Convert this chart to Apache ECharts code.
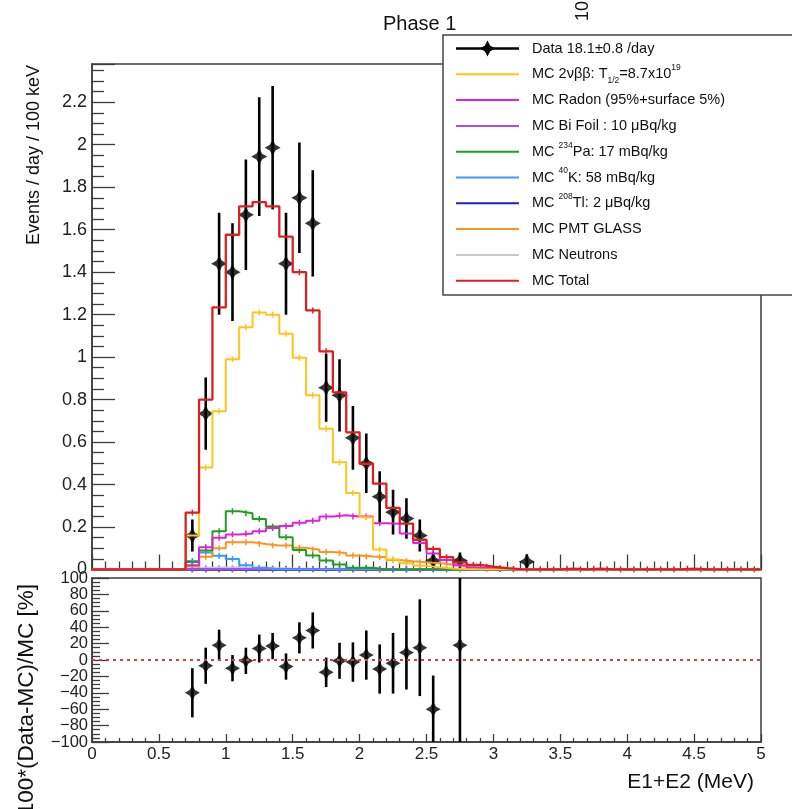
<!DOCTYPE html>
<html><head><meta charset="utf-8">
<script src="https://cdn.jsdelivr.net/npm/echarts@6/dist/echarts.min.js"></script>
<style>html,body{margin:0;padding:0;background:#fff}#c{width:792px;height:809px}</style>
</head><body><div id="c"></div>
<script>
// ---------------- DATA ----------------
const binEdges = [0.0,0.1,0.2,0.3,0.4,0.5,0.6,0.7,0.8,0.9,1.0,1.1,1.2,1.3,1.4,1.5,1.6,1.7,1.8,1.9,2.0,2.1,2.2,2.3,2.4,2.5,2.6,2.7,2.8,2.9,3.0,3.1,3.2,3.3,3.4,3.5,3.6,3.7,3.8,3.9,4.0,4.1,4.2,4.3,4.4,4.5,4.6,4.7,4.8,4.9,5.0];

const mcTotal = [0,0,0,0,0,0,0,0.268,0.80,1.234,1.576,1.71,1.73,1.71,1.567,1.40,1.22,1.027,0.834,0.646,0.498,0.404,0.29,0.216,0.14,0.097,0.058,0.034,0.022,0.013,0.006,0.002,0.001,0.001,0.001,0.004,0.001,0.004,0.001,0.001,0.001,0.001,0.001,0.001,0.004,0.001,0.001,0.001,0.001,0.001];
const mc2nbb = [0,0,0,0,0,0,0,0.16,0.48,0.745,0.99,1.14,1.21,1.20,1.11,0.997,0.82,0.663,0.505,0.36,0.246,0.094,0.047,0.03,0.018,0.01,0.005,0.002,0,0,0,0,0,0,0,0,0,0,0,0,0,0,0,0,0,0,0,0,0,0];
const mcRadon = [0,0,0,0,0,0,0,0.02,0.105,0.15,0.165,0.17,0.18,0.195,0.205,0.22,0.23,0.25,0.255,0.25,0.25,0.218,0.215,0.17,0.125,0.075,0.045,0.02,0.01,0.005,0.002,0,0,0,0,0,0,0,0,0,0,0,0,0,0,0,0,0,0,0];
const mcBiFoil = [0,0,0,0,0,0,0,0.001,0.002,0.002,0.002,0.002,0.002,0.002,0.002,0.002,0.002,0.002,0.001,0.001,0.001,0.001,0.001,0.001,0.001,0,0,0,0,0,0,0,0,0,0,0,0,0,0,0,0,0,0,0,0,0,0,0,0,0];
const mcPa234 = [0,0,0,0,0,0,0,0.035,0.09,0.18,0.274,0.265,0.238,0.202,0.152,0.092,0.066,0.042,0.024,0.008,0.008,0,0,0,0,0,0,0,0,0,0,0,0,0,0,0,0,0,0,0,0,0,0,0,0,0,0,0,0,0];
const mcK40 = [0,0,0,0,0,0,0,0.04,0.08,0.065,0.05,0.02,0.008,0,0,0,0,0,0,0,0,0,0,0,0,0,0,0,0,0,0,0,0,0,0,0,0,0,0,0,0,0,0,0,0,0,0,0,0,0];
const mcTl208 = [0,0,0,0,0,0,0,0.001,0.001,0.001,0.001,0.001,0.001,0.001,0.001,0.001,0.001,0.001,0.001,0.001,0.001,0.001,0.001,0.001,0.001,0.001,0.001,0.001,0,0,0,0,0,0,0,0,0,0,0,0,0,0,0,0,0,0,0,0,0,0];
const mcPMT = [0,0,0,0,0,0,0,0.014,0.06,0.10,0.128,0.128,0.12,0.113,0.113,0.102,0.093,0.082,0.078,0.066,0.061,0.058,0.045,0.039,0.034,0.03,0.022,0.014,0.009,0.005,0.003,0.001,0,0,0,0,0,0,0,0,0,0,0,0,0,0,0,0,0,0];
const mcNeutrons = [0,0,0,0,0,0,0,0.006,0.01,0.01,0.009,0.008,0.007,0.006,0.005,0.004,0.004,0.003,0.003,0.002,0.002,0.001,0.001,0.001,0.001,0,0,0,0,0,0,0,0,0,0,0,0,0,0,0,0,0,0,0,0,0,0,0,0,0];

const dataCenters = [0.75,0.85,0.95,1.05,1.15,1.25,1.35,1.45,1.55,1.65,1.75,1.85,1.95,2.05,2.15,2.25,2.35,2.45,2.55,2.75,3.25];
const dataVals = [0.16,0.734,1.44,1.40,1.67,1.944,1.986,1.44,1.75,1.63,0.856,0.82,0.62,0.50,0.343,0.27,0.24,0.16,0.042,0.042,0.037];
const dataErrs = [0.075,0.17,0.24,0.23,0.26,0.28,0.29,0.24,0.26,0.25,0.16,0.17,0.15,0.14,0.12,0.105,0.095,0.075,0.038,0.038,0.035];

const ratioCenters = [0.75,0.85,0.95,1.05,1.15,1.25,1.35,1.45,1.55,1.65,1.75,1.85,1.95,2.05,2.15,2.25,2.35,2.45,2.55,2.75];
const ratioVals = [-40,-7,18,-10,-1,14,17,-8,27,36,-15,-1,-2.5,6,-11,-4,9,15,-60,18];
const ratioErrs = [30,22,19,16,16,17,16,16,19,22,18,22,24,30,30,37,45,59,41,130];

const legendLabels = ['Data 18.1\u00b10.8 /day','MC 2\u03bd\u03b2\u03b2: T{sub|1/2}=8.7x10{sup|19}','MC Radon (95%+surface 5%)','MC Bi Foil : 10 \u03bcBq/kg','MC {sup|234}Pa: 17 mBq/kg','MC {sup|40}K: 58 mBq/kg','MC {sup|208}Tl: 2 \u03bcBq/kg','MC PMT GLASS','MC Neutrons','MC Total'];

// ---------------- STYLE ----------------
const FONT = '"Liberation Sans", Arial, Helvetica, sans-serif';
const AX = '#3c3c3c';
const C = {
  data:'#000000', nbb:'#FFC518', radon:'#DD22DD', bi:'#9F4FFF', pa:'#1F9F1F',
  k:'#3A9BFF', tl:'#1E1ECC', pmt:'#FF9320', neu:'#C8C8C8', total:'#DD1F1F'
};
const legendColors = [C.data,C.nbb,C.radon,C.bi,C.pa,C.k,C.tl,C.pmt,C.neu,C.total];

function histData(vals){
  const d = [];
  for (let i = 0; i < vals.length; i++) d.push([binEdges[i], vals[i]]);
  d.push([binEdges[vals.length], vals[vals.length-1]]);
  return d;
}
function centerData(vals){
  const d = [];
  for (let i = 0; i < vals.length; i++) if (vals[i] > 0) d.push([(binEdges[i]+binEdges[i+1])/2, vals[i]]);
  return d;
}
function histSeries(vals, color, width){
  return [{
    type:'line', xAxisIndex:0, yAxisIndex:0, step:'end', showSymbol:false, symbol:'none',
    data: histData(vals), lineStyle:{color:color, width:width}, silent:true, clip:true
  },{
    type:'custom', xAxisIndex:0, yAxisIndex:0, data: centerData(vals), silent:true,
    renderItem:(params, api) => {
      const p = api.coord([api.value(0), api.value(1)]);
      return {type:'line', shape:{x1:p[0], y1:p[1]-3, x2:p[0], y2:p[1]+3}, style:{stroke:color, lineWidth:1.5}};
    }
  }];
}
const STAR = 'path://M0,-10 L3.6,-3.6 L10,0 L3.6,3.6 L0,10 L-3.6,3.6 L-10,0 L-3.6,-3.6 Z';

function errSeries(xs, vs, es, xi, yi, lo, hi){
  return {
    type:'custom', xAxisIndex:xi, yAxisIndex:yi, silent:true, clip:true,
    data: xs.map((x,i)=>[x, vs[i], es[i]]),
    renderItem:(params, api) => {
      const x = api.value(0), y = api.value(1), e = api.value(2);
      const a = api.coord([x, Math.max(lo, y-e)]), b = api.coord([x, Math.min(hi, y+e)]);
      return {type:'line', shape:{x1:a[0], y1:a[1], x2:b[0], y2:b[1]}, style:{stroke:'#000', lineWidth:2.6}};
    }
  };
}
function markerSeries(xs, vs, xi, yi, size){
  return {type:'scatter', xAxisIndex:xi, yAxisIndex:yi, symbol:STAR, symbolSize:size,
    itemStyle:{color:'#000'}, data: xs.map((x,i)=>[x, vs[i]]), silent:true, clip:true};
}

const upperYMax = 2.38, ratioMin = -100, ratioMax = 100;

const series = [].concat(
  histSeries(mcNeutrons, C.neu, 2),
  histSeries(mcTl208, C.tl, 2),
  histSeries(mcBiFoil, C.bi, 2),
  histSeries(mcK40, C.k, 2),
  histSeries(mcPMT, C.pmt, 2),
  histSeries(mcPa234, C.pa, 2),
  histSeries(mcRadon, C.radon, 2),
  histSeries(mc2nbb, C.nbb, 2),
  histSeries(mcTotal, C.total, 2.3),
  [errSeries(dataCenters, dataVals, dataErrs, 0, 0, 0, upperYMax),
   markerSeries(dataCenters, dataVals, 0, 0, 16),
   {type:'line', xAxisIndex:1, yAxisIndex:1, showSymbol:false, symbol:'none', silent:true,
    data:[[binEdges[0],0],[binEdges[binEdges.length-1],0]], lineStyle:{color:'#E23A3A', width:2, type:[3,4]}},
   errSeries(ratioCenters, ratioVals, ratioErrs, 1, 1, ratioMin, ratioMax),
   markerSeries(ratioCenters, ratioVals, 1, 1, 15)]
);

// ---------------- LEGEND / TEXT GRAPHICS ----------------
const graphic = [];
const LX = 443, LY = 35;
graphic.push({type:'rect', z:100, shape:{x:LX, y:LY, width:400, height:260}, style:{fill:'#fff', stroke:'#444', lineWidth:1.5}});
for (let i = 0; i < legendLabels.length; i++) {
  const y = 48.5 + 25.8*i;
  graphic.push({type:'line', z:101, shape:{x1:456, y1:y, x2:519, y2:y}, style:{stroke:legendColors[i], lineWidth: i===0 ? 2.4 : 2}});
  if (i === 0) {
    graphic.push({type:'polygon', z:102, shape:{points:[[487.5,y-8],[490.2,y-2.7],[495.5,y],[490.2,y+2.7],[487.5,y+8],[484.8,y+2.7],[479.5,y],[484.8,y-2.7]]}, style:{fill:'#000'}});
  }
  graphic.push({type:'text', z:102, x:532, y:y, style:{
    text: legendLabels[i], fill:'#111', fontSize:14.5, fontFamily:FONT, lineHeight:22,
    align:'left', verticalAlign:'middle', textAlign:'left', textVerticalAlign:'middle',
    rich:{ sup:{fontSize:8.5, fontFamily:FONT, fill:'#111', verticalAlign:'top'},
           sub:{fontSize:8.5, fontFamily:FONT, fill:'#111', verticalAlign:'bottom'} }
  }});
}
// title
graphic.push({type:'text', z:103, x:383, y:24, style:{text:'Phase 1', fill:'#111', fontSize:20, fontFamily:FONT,
  align:'left', verticalAlign:'middle', textAlign:'left', textVerticalAlign:'middle'}});
// clipped rotated label at top
graphic.push({type:'text', z:103, x:583, y:21, rotation:Math.PI/2, style:{text:'10', fill:'#111', fontSize:18, fontFamily:FONT,
  align:'left', verticalAlign:'middle', textAlign:'left', textVerticalAlign:'middle'}});
// axis titles
graphic.push({type:'text', z:103, x:34, y:65, rotation:Math.PI/2, style:{text:'Events / day / 100 keV', fill:'#111', fontSize:18, fontFamily:FONT,
  align:'right', verticalAlign:'middle', textAlign:'right', textVerticalAlign:'middle'}});
graphic.push({type:'text', z:103, x:27, y:584, rotation:Math.PI/2, style:{text:'100*(Data-MC)/MC [%]', fill:'#111', fontSize:22.5, fontFamily:FONT,
  align:'right', verticalAlign:'middle', textAlign:'right', textVerticalAlign:'middle'}});
graphic.push({type:'text', z:103, x:754, y:782, style:{text:'E1+E2 (MeV)', fill:'#111', fontSize:21, fontFamily:FONT,
  align:'right', verticalAlign:'middle', textAlign:'right', textVerticalAlign:'middle'}});

// ---------------- AXES ----------------
const tickStyle = {color:AX, width:1.3};
const minusFmt = (v)=>String(v).replace('-', '\u2212');
const option = {
  animation:false,
  backgroundColor:'#ffffff',
  textStyle:{fontFamily:FONT},
  grid:[
    {left:92, top:64, width:669, height:505.5, show:true, borderColor:AX, borderWidth:1.5, backgroundColor:'transparent', outerBoundsMode:'none', containLabel:false},
    {left:92, top:578, width:669, height:164, show:true, borderColor:AX, borderWidth:1.5, backgroundColor:'transparent', outerBoundsMode:'none', containLabel:false}
  ],
  xAxis:[
    {gridIndex:0, type:'value', min:0, max:5, interval:0.5,
     axisLine:{show:true, onZero:false, lineStyle:{color:AX, width:1.5}},
     axisTick:{show:true, inside:true, length:15, lineStyle:tickStyle},
     minorTick:{show:true, splitNumber:5, length:8, lineStyle:tickStyle},
     axisLabel:{show:false}, splitLine:{show:false}, minorSplitLine:{show:false}},
    {gridIndex:1, type:'value', min:0, max:5, interval:0.5,
     axisLine:{show:true, onZero:false, lineStyle:{color:AX, width:1.5}},
     axisTick:{show:true, inside:true, length:8, lineStyle:tickStyle},
     minorTick:{show:true, splitNumber:5, length:4, lineStyle:tickStyle},
     axisLabel:{show:true, fontSize:17, color:'#222', margin:4, fontFamily:FONT, hideOverlap:false, showMinLabel:true, showMaxLabel:true},
     splitLine:{show:false}, minorSplitLine:{show:false}}
  ],
  yAxis:[
    {gridIndex:0, type:'value', position:'left', min:0, max:upperYMax, interval:0.2,
     axisLine:{show:true, onZero:false, lineStyle:{color:AX, width:1.5}},
     axisTick:{show:true, inside:true, length:23, lineStyle:tickStyle},
     minorTick:{show:true, splitNumber:4, length:12, lineStyle:tickStyle},
     axisLabel:{show:true, fontSize:18, color:'#222', margin:5, fontFamily:FONT, showMinLabel:true, showMaxLabel:false, hideOverlap:false},
     splitLine:{show:false}, minorSplitLine:{show:false}},
    {gridIndex:1, type:'value', position:'left', offset:0, min:ratioMin, max:ratioMax, interval:20,
     axisLine:{show:true, onZero:false, lineStyle:{color:AX, width:1.5}},
     axisTick:{show:true, inside:true, length:17, lineStyle:tickStyle},
     minorTick:{show:true, splitNumber:4, length:8, lineStyle:tickStyle},
     axisLabel:{show:true, fontSize:16.5, color:'#222', margin:4, fontFamily:FONT, hideOverlap:false, showMinLabel:false, showMaxLabel:false,
       formatter:minusFmt},
     splitLine:{show:false}, minorSplitLine:{show:false}},
    // overlay axis carrying only the end labels (±100) of the ratio scale
    {gridIndex:1, type:'value', position:'left', offset:0, min:ratioMin, max:ratioMax, interval:200,
     axisLine:{show:false}, axisTick:{show:false}, minorTick:{show:false},
     axisLabel:{show:true, fontSize:16.5, color:'#222', margin:4, fontFamily:FONT, hideOverlap:false, showMinLabel:true, showMaxLabel:true,
       formatter:minusFmt},
     splitLine:{show:false}, minorSplitLine:{show:false}}
  ],
  series: series,
  graphic: graphic
};
const chart = echarts.init(document.getElementById('c'), null, {renderer:'canvas'});
chart.setOption(option);
</script>
</body></html>
